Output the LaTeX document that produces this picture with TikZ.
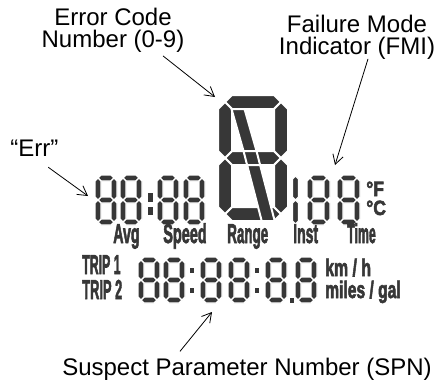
\documentclass[tikz,border=0pt]{standalone}
\usepackage{fontspec}
\usepackage{graphicx}
\setmainfont{Liberation Sans}
\newfontfamily\lcdfont{Liberation Sans}[FakeBold=3]
\usetikzlibrary{arrows.meta}

\definecolor{lcd}{RGB}{55,55,55}

% one segment, lying (x1,x2,y,t) or standing (x,y1,y2,t)
\newcommand{\lcdh}[4]{\filldraw[lcdseg] (#1,#3) -- ({#1+#4/2},{#3-#4/2}) -- ({#2-#4/2},{#3-#4/2}) -- (#2,#3) -- ({#2-#4/2},{#3+#4/2}) -- ({#1+#4/2},{#3+#4/2}) -- cycle;}
\newcommand{\lcdv}[4]{\filldraw[lcdseg] (#1,#2) -- ({#1+#4/2},{#2+#4/2}) -- ({#1+#4/2},{#3-#4/2}) -- (#1,#3) -- ({#1-#4/2},{#3-#4/2}) -- ({#1-#4/2},{#2+#4/2}) -- cycle;}
% full digit 8: x, y (top left), width, height, thickness
\newcommand{\lcddigit}[5]{%
  \pgfmathsetmacro\dgL{#1+#5/2}\pgfmathsetmacro\dgR{#1+#3-#5/2}%
  \pgfmathsetmacro\dgT{#2+#5/2}\pgfmathsetmacro\dgB{#2+#4-#5/2}%
  \pgfmathsetmacro\dgM{(\dgT+\dgB)/2}%
  \lcdh{\dgL}{\dgR}{\dgT}{#5}\lcdh{\dgL}{\dgR}{\dgM}{#5}\lcdh{\dgL}{\dgR}{\dgB}{#5}%
  \lcdv{\dgL}{\dgT}{\dgM}{#5}\lcdv{\dgL}{\dgM}{\dgB}{#5}%
  \lcdv{\dgR}{\dgT}{\dgM}{#5}\lcdv{\dgR}{\dgM}{\dgB}{#5}}
\newcommand{\lcdtext}[2][0.5]{\scalebox{#1}[1]{#2}}

\tikzset{
  lcdseg/.style={fill=lcd, draw=white, line width=1pt, line join=round},
  bigseg/.style={fill=lcd, draw=white, line width=1.5pt, line join=round},
  lcddot/.style={fill=lcd},
  lcdlbl/.style={text=lcd, inner sep=0pt, font=\lcdfont\fontsize{20.5}{14}\selectfont\bfseries},
  unitlbl/.style={lcdlbl, font=\lcdfont\fontsize{18}{14}\selectfont\bfseries},
  degreelbl/.style={lcdlbl, font=\lcdfont\fontsize{15.5}{14}\selectfont\bfseries},
  callout/.style={inner sep=0pt, font=\fontsize{18}{16.5}\selectfont, align=center},
  pointer/.style={line width=0.6pt, -{Straight Barb[length=7pt,width=8pt]}}
}

\begin{document}
\begin{tikzpicture}[x=0.75pt,y=0.75pt,yscale=-1,xscale=1]
\useasboundingbox (0,0) rectangle (448,382);

% upper row: 88:88
\foreach \xd in {95,120,157,183} {\lcddigit{\xd}{175}{22}{50}{6}}
\fill[lcddot] (148,193) rectangle (153,202);
\fill[lcddot] (148,207) rectangle (153,215);

% big error code digit
\begin{scope}[lcdseg/.style={bigseg}]
\lcddigit{218}{95}{70}{126}{14}
\end{scope}
\filldraw[bigseg] (231.5,109) -- (244.5,109) -- (256.5,151) -- (243.5,151) -- cycle;
\filldraw[bigseg] (243.5,151) -- (256.5,151) -- (260.1,165) -- (247.1,165) -- cycle;
\filldraw[bigseg] (247.1,165) -- (260.1,165) -- (274.7,221) -- (261.7,221) -- cycle;

% FMI: 188
\lcdv{295.5}{176}{200}{6}
\lcdv{295.5}{200}{224}{6}
\foreach \xd in {307,337} {\lcddigit{\xd}{175}{23}{50}{6}}

% lower row: 88:88:8.8
\foreach \xd in {138,163,200,228,265,295} {\lcddigit{\xd}{257}{22}{46}{6}}
\fill[lcddot] (190,268) rectangle (194,273);
\fill[lcddot] (190,288) rectangle (194,293);
\fill[lcddot] (255,268) rectangle (259,273);
\fill[lcddot] (255,288) rectangle (259,293);
\fill[lcddot] (290,298) rectangle (294,303);

% lcd labels
\node[degreelbl, anchor=base west] (degf) at (366,196) {\lcdtext[0.85]{°F}};
\node[degreelbl, anchor=base west] (degc) at (366,215) {\lcdtext[0.85]{°C}};
\node[lcdlbl, anchor=base west] (avg) at (113,243) {\lcdtext[0.52]{Avg}};
\node[lcdlbl, anchor=base west] (speed) at (163,243) {\lcdtext[0.53]{Speed}};
\node[lcdlbl, anchor=base west] (range) at (227,243) {\lcdtext[0.49]{Range}};
\node[lcdlbl, anchor=base west] (inst) at (293,243) {\lcdtext[0.51]{Inst}};
\node[lcdlbl, anchor=base west] (time) at (347,243) {\lcdtext[0.45]{Time}};
\node[lcdlbl, anchor=base west] (trip1) at (82,274) {\lcdtext[0.45]{TRIP 1}};
\node[lcdlbl, anchor=base west] (trip2) at (82,299) {\lcdtext[0.47]{TRIP 2}};
\node[unitlbl, anchor=base west] (kmh) at (325,276) {\lcdtext[0.66]{km / h}};
\node[unitlbl, anchor=base west] (mpg) at (325,298) {\lcdtext[0.65]{miles / gal}};

% callouts
\node[callout, anchor=north] (ecn) at (113,8) {Error Code\\Number (0-9)};
\node[callout, anchor=north] (fmi) at (357,15) {Failure Mode\\Indicator (FMI)};
\node[callout, anchor=base west] (err) at (10,156) {“Err”};
\node[callout, anchor=base] (spn) at (247,375) {Suspect Parameter Number (SPN)};

\coordinate (ecn tip) at (215,97);
\coordinate (fmi tip) at (335,165);
\coordinate (err tip) at (88,196);
\coordinate (spn tip) at (212,312);

\draw[pointer] ([shift={(50,3)}]ecn.south) -- (ecn tip);
\draw[pointer] ([shift={(11,-1)}]fmi.south) -- (fmi tip);
\draw[pointer] ([shift={(14,11)}]err.south) -- (err tip);
\draw[pointer] ([shift={(-67,-6)}]spn.north) -- (spn tip);

\end{tikzpicture}
\end{document}
